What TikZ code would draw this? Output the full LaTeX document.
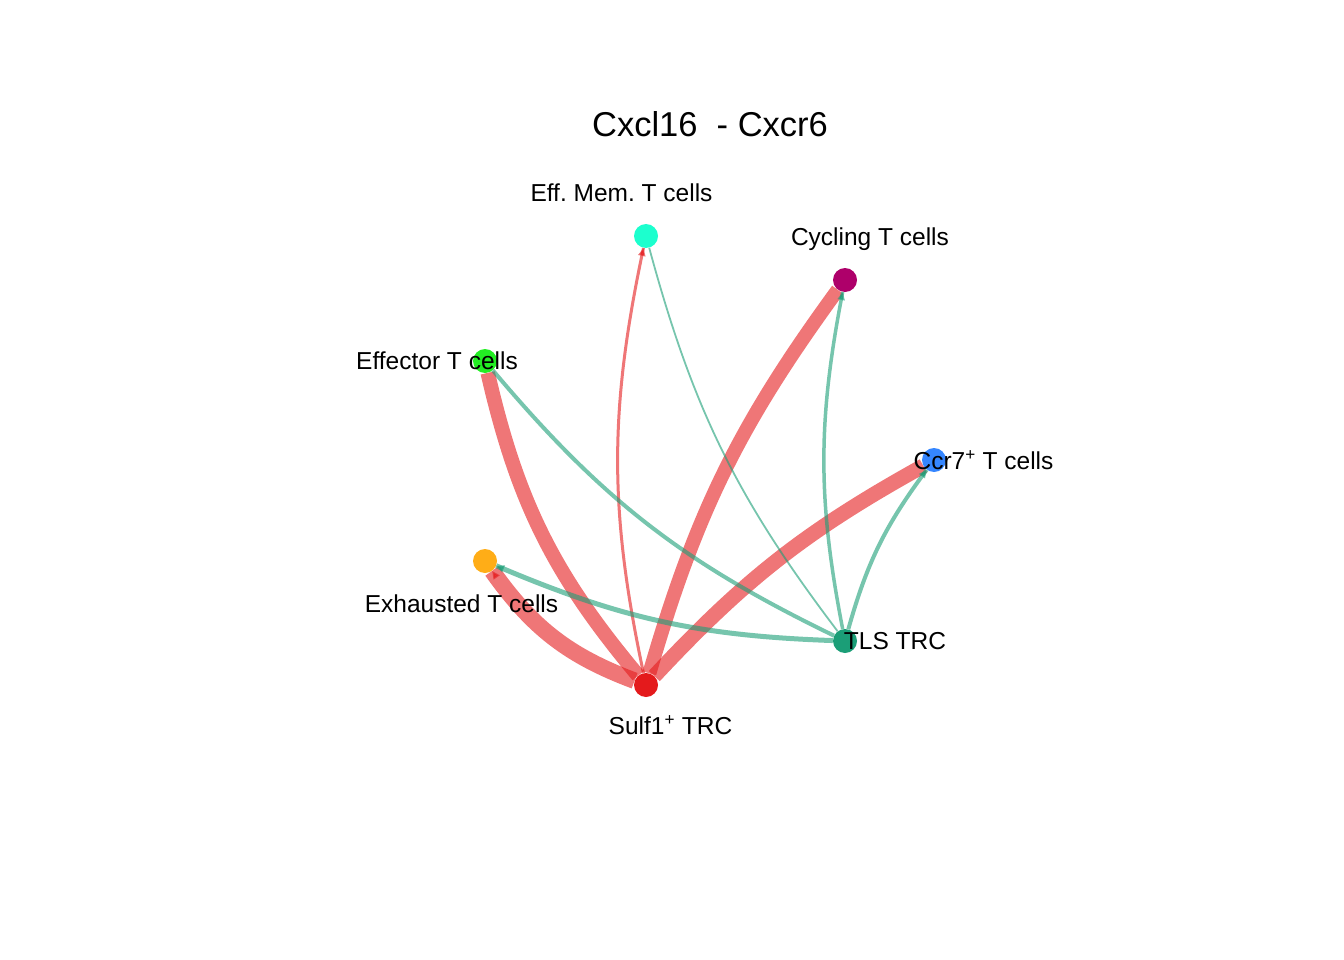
\documentclass[tikz,border=0pt]{standalone}
\usepackage{fontspec}
\setmainfont{Liberation Sans}
\frenchspacing
\usetikzlibrary{arrows.meta,decorations.markings}
\pgfdeclarelayer{edgelayer}
\pgfsetlayers{edgelayer,main}
\definecolor{cSulf}{HTML}{E41A1C}
\definecolor{cTLS}{HTML}{1B9E77}
\definecolor{cEM}{HTML}{1CFFCE}
\definecolor{cCyc}{HTML}{AE006A}
\definecolor{cEff}{HTML}{23EE23}
\definecolor{cCcr}{HTML}{3586FF}
\definecolor{cExh}{HTML}{FFAD17}
\tikzset{
  cell/.style={circle,inner sep=0pt,minimum size=24pt,draw=none},
  lab/.style={font=\fontsize{24.5}{28}\selectfont,inner sep=0pt,text height=17.5pt,text depth=0pt,anchor=center},
  flow/.style={opacity=0.6,line cap=butt,
    postaction={decorate,decoration={markings,mark=at position 1 with {\arrow{Triangle[length=8pt,width=7pt]}}}}},
  redflow/.style={flow,draw=cSulf},
  tealflow/.style={flow,draw=cTLS}
}
\begin{document}
\begin{tikzpicture}[x=1pt,y=-1pt]
\useasboundingbox (0,0) rectangle (1344,960);
% nodes
\node[cell,fill=cEM]   (em)   at (646,236) {};
\node[cell,fill=cCyc]  (cyc)  at (845,280) {};
\node[cell,fill=cEff]  (eff)  at (485,361) {};
\node[cell,fill=cCcr]  (ccr)  at (934,460) {};
\node[cell,fill=cExh]  (exh)  at (485,561) {};
\node[cell,fill=cTLS]  (tls)  at (845,641) {};
\node[cell,fill=cSulf] (sulf) at (646,685) {};
% edges
\begin{pgfonlayer}{edgelayer}
\draw[redflow,line width=16.5pt] (sulf) to[bend left=17] (exh);
\draw[redflow,line width=14.5pt] (sulf) to[bend left=13.5] (eff);
\draw[redflow,line width=3pt]    (sulf) to[bend left=12] (em);
\draw[redflow,line width=14pt]   (sulf) to[bend left=10] (cyc);
\draw[redflow,line width=15pt]   (sulf) to[bend left=9] (ccr);
\draw[tealflow,line width=5pt]   (tls) to[bend left=10.5] (exh);
\draw[tealflow,line width=4pt]   (tls) to[bend left=12] (eff);
\draw[tealflow,line width=1.8pt] (tls) to[bend left=11] (em);
\draw[tealflow,line width=3.5pt] (tls) to[bend left=11] (cyc);
\draw[tealflow,line width=4pt]   (tls) to[bend left=10.5] (ccr);
\end{pgfonlayer}
% labels
\node[font=\fontsize{34.5}{40}\selectfont,inner sep=0pt,text height=24.7pt,text depth=0pt] (title) at (710,124) {Cxcl16~ - Cxcr6};
\node[lab] (lem)   at (621.5,193) {Eff. Mem. T cells};
\node[lab] (lcyc)  at (870,237) {Cycling T cells};
\node[lab] (leff)  at (437,361) {Effector T cells};
\node[lab] (lccr)  at (983.5,461) {Ccr7\textsuperscript{+} T cells};
\node[lab] (lexh)  at (461.5,604) {Exhausted T cells};
\node[lab] (ltls)  at (895,641) {TLS TRC};
\node[lab] (lsulf) at (670.5,726) {Sulf1\textsuperscript{+} TRC};
\end{tikzpicture}
\end{document}
